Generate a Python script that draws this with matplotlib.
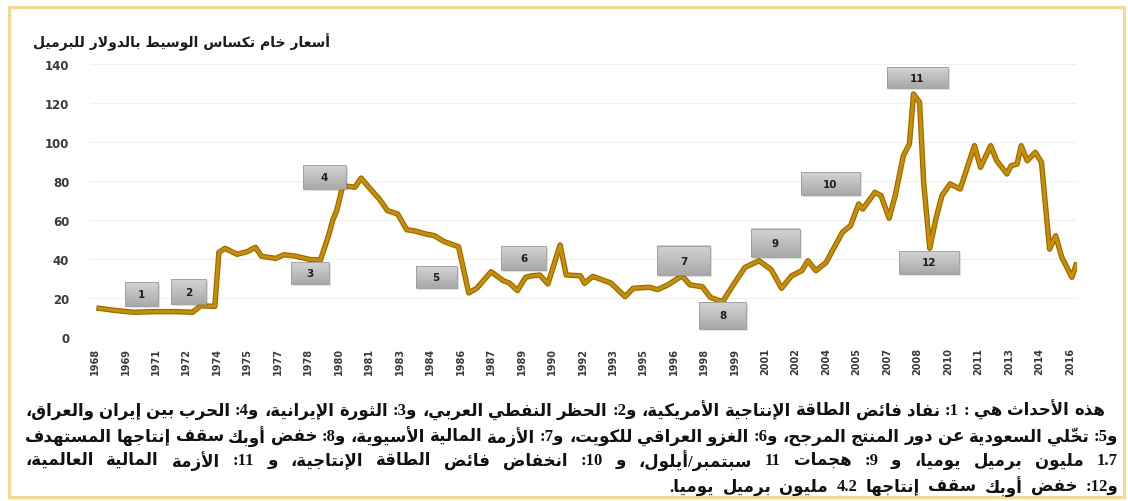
import numpy as np
import matplotlib
matplotlib.use("Agg")
import matplotlib.pyplot as plt
import matplotlib.patheffects as pe
from matplotlib.patches import Rectangle
from matplotlib.colors import LinearSegmentedColormap

# ---------------- data ----------------
years = [1968.2, 1969.1, 1969.9, 1970.9, 1972.0, 1972.8, 1973.2, 1973.9, 1974.1, 1974.4,
         1975.0, 1975.5, 1975.9, 1976.2, 1976.9, 1977.3, 1977.9, 1978.6, 1979.1, 1979.5,
         1979.7, 1979.9, 1980.2, 1980.8, 1981.1, 1981.7, 1982.0, 1982.4, 1982.9, 1983.35,
         1983.7, 1984.3, 1984.7, 1985.2, 1985.9, 1986.4, 1986.8, 1987.5, 1988.1, 1988.4,
         1988.8, 1989.2, 1989.5, 1989.9, 1990.3, 1990.9, 1991.2, 1991.9, 1992.1, 1992.5,
         1993.4, 1994.1, 1994.5, 1995.3, 1995.7, 1996.2, 1996.9, 1997.3, 1997.9, 1998.3,
         1998.9, 1999.4, 2000.0, 2000.7, 2001.3, 2001.8, 2002.3, 2002.8, 2003.1, 2003.5,
         2004.0, 2004.8, 2005.2, 2005.6, 2005.8, 2006.4, 2006.7, 2007.1, 2007.4, 2007.8,
         2008.1, 2008.3, 2008.6, 2008.8, 2009.1, 2009.4, 2009.7, 2010.1, 2010.6, 2011.3,
         2011.6, 2012.1, 2012.4, 2012.9, 2013.1, 2013.4, 2013.6, 2013.9, 2014.3, 2014.6,
         2015.0, 2015.3, 2015.6, 2016.1, 2016.3]
prices = [14.7, 13.5, 12.7, 13.0, 13.0, 12.7, 16.0, 15.7, 43.4, 45.5,
          42.4, 43.8, 46.0, 41.4, 40.3, 42.2, 41.4, 39.7, 39.5, 52.0,
          59.7, 64.8, 77.6, 76.8, 81.5, 74.2, 70.8, 64.8, 63.1, 55.0,
          54.5, 52.8, 52.0, 48.9, 46.3, 22.6, 25.0, 33.5, 28.9, 27.7,
          23.8, 30.6, 31.4, 31.8, 27.2, 47.2, 31.8, 31.4, 27.5, 31.1,
          27.7, 20.7, 25.0, 25.5, 24.3, 26.7, 31.4, 26.7, 25.8, 20.3,
          18.1, 26.3, 35.7, 39.1, 34.5, 25.0, 31.4, 34.0, 39.1, 34.0,
          38.3, 53.7, 57.1, 68.2, 65.6, 74.2, 72.5, 60.9, 72.5, 93.0,
          99.0, 124.6, 120.3, 79.3, 45.5, 60.5, 72.5, 78.5, 75.9, 98.1,
          87.0, 98.1, 90.4, 83.6, 87.8, 88.7, 98.1, 90.4, 94.7, 89.6,
          45.1, 51.9, 40.9, 30.6, 36.9]
tick_pos = [1968 + 1.5 * i for i in range(33)]
tick_labels = ["1968", "1969", "1971", "1972", "1974", "1975", "1977", "1978", "1980",
               "1981", "1983", "1984", "1986", "1987", "1989", "1990", "1992", "1993",
               "1995", "1996", "1998", "1999", "2001", "2002", "2004", "2005", "2007",
               "2008", "2010", "2011", "2013", "2014", "2016"]
y_ticks = [0, 20, 40, 60, 80, 100, 120, 140]
event_labels = ["1", "2", "3", "4", "5", "6", "7", "8", "9", "10", "11", "12"]
event_x = [1970.3, 1972.6, 1978.6, 1979.3, 1984.8, 1989.1, 1997.0, 1998.9, 2001.5, 2004.2, 2008.5, 2009.05]
event_y = [22.2, 23.3, 32.9, 82.0, 31.0, 40.3, 39.1, 11.1, 48.2, 78.6, 132.9, 38.3]
box_w_px = [33, 35, 38, 43, 41, 45, 53, 47, 49, 59, 61, 60]
box_h_px = [24, 25, 22, 24, 22, 24, 29, 27, 28, 23, 21, 23]

title = "أسعار خام تكساس الوسيط بالدولار للبرميل"
notes = [
    "هذه الأحداث هي : 1: نفاد فائض الطاقة الإنتاجية الأمريكية، و2: الحظر النفطي العربي، و3: الثورة الإيرانية، و4: الحرب بين إيران والعراق،",
    "و5: تخلّي السعودية عن دور المنتج المرجح، و6: الغزو العراقي للكويت، و7: الأزمة المالية الأسيوية، و8: خفض أوبك سقف إنتاجها المستهدف",
    "1.7 مليون برميل يوميا، و 9: هجمات 11 سبتمبر/أيلول، و 10: انخفاض فائض الطاقة الإنتاجية، و 11: الأزمة المالية العالمية،",
    "و12: خفض أوبك سقف إنتاجها 4.2 مليون برميل يوميا.",
]

# ---------------- Arabic shaping ----------------
_F = {
    '\u0621': (0xFE80,), '\u0622': (0xFE81, 0xFE82), '\u0623': (0xFE83, 0xFE84),
    '\u0624': (0xFE85, 0xFE86), '\u0625': (0xFE87, 0xFE88), '\u0626': (0xFE89, 0xFE8A, 0xFE8B, 0xFE8C),
    '\u0627': (0xFE8D, 0xFE8E), '\u0628': (0xFE8F, 0xFE90, 0xFE91, 0xFE92), '\u0629': (0xFE93, 0xFE94),
    '\u062A': (0xFE95, 0xFE96, 0xFE97, 0xFE98), '\u062B': (0xFE99, 0xFE9A, 0xFE9B, 0xFE9C),
    '\u062C': (0xFE9D, 0xFE9E, 0xFE9F, 0xFEA0), '\u062D': (0xFEA1, 0xFEA2, 0xFEA3, 0xFEA4),
    '\u062E': (0xFEA5, 0xFEA6, 0xFEA7, 0xFEA8), '\u062F': (0xFEA9, 0xFEAA), '\u0630': (0xFEAB, 0xFEAC),
    '\u0631': (0xFEAD, 0xFEAE), '\u0632': (0xFEAF, 0xFEB0), '\u0633': (0xFEB1, 0xFEB2, 0xFEB3, 0xFEB4),
    '\u0634': (0xFEB5, 0xFEB6, 0xFEB7, 0xFEB8), '\u0635': (0xFEB9, 0xFEBA, 0xFEBB, 0xFEBC),
    '\u0636': (0xFEBD, 0xFEBE, 0xFEBF, 0xFEC0), '\u0637': (0xFEC1, 0xFEC2, 0xFEC3, 0xFEC4),
    '\u0638': (0xFEC5, 0xFEC6, 0xFEC7, 0xFEC8), '\u0639': (0xFEC9, 0xFECA, 0xFECB, 0xFECC),
    '\u063A': (0xFECD, 0xFECE, 0xFECF, 0xFED0), '\u0641': (0xFED1, 0xFED2, 0xFED3, 0xFED4),
    '\u0642': (0xFED5, 0xFED6, 0xFED7, 0xFED8), '\u0643': (0xFED9, 0xFEDA, 0xFEDB, 0xFEDC),
    '\u0644': (0xFEDD, 0xFEDE, 0xFEDF, 0xFEE0), '\u0645': (0xFEE1, 0xFEE2, 0xFEE3, 0xFEE4),
    '\u0646': (0xFEE5, 0xFEE6, 0xFEE7, 0xFEE8), '\u0647': (0xFEE9, 0xFEEA, 0xFEEB, 0xFEEC),
    '\u0648': (0xFEED, 0xFEEE), '\u0649': (0xFEEF, 0xFEF0), '\u064A': (0xFEF1, 0xFEF2, 0xFEF3, 0xFEF4),
}
_LA = {'\u0622': (0xFEF5, 0xFEF6), '\u0623': (0xFEF7, 0xFEF8),
       '\u0625': (0xFEF9, 0xFEFA), '\u0627': (0xFEFB, 0xFEFC)}


def _is_mark(c):
    return '\u064B' <= c <= '\u0652'


def _jt(b):
    if len(b) == 3 and b.startswith('LA'):
        return 'R'
    if b in _F:
        return {1: 'U', 2: 'R', 4: 'D'}[len(_F[b])]
    return 'U'


def shape_word(word):
    cl = []
    for c in word:
        if _is_mark(c) and cl:
            cl[-1][1] += c
        else:
            cl.append([c, ''])
    mg = []
    i = 0
    while i < len(cl):
        b, m = cl[i]
        if b == '\u0644' and i + 1 < len(cl) and cl[i + 1][0] in _LA:
            mg.append(['LA' + cl[i + 1][0], m + cl[i + 1][1]])
            i += 2
        else:
            mg.append([b, m])
            i += 1
    n = len(mg)
    glyphs = []
    for i, (b, m) in enumerate(mg):
        t = _jt(b)
        pt = _jt(mg[i - 1][0]) if i > 0 else 'U'
        nt = _jt(mg[i + 1][0]) if i < n - 1 else 'U'
        jp = t in 'RD' and pt == 'D'
        jn = t == 'D' and nt in 'RD'
        if len(b) == 3 and b.startswith('LA'):
            f = _LA[b[2]]
            g = chr(f[1] if jp else f[0])
        elif b in _F:
            f = _F[b]
            if t == 'D':
                g = chr(f[3] if (jp and jn) else f[1] if jp else f[2] if jn else f[0])
            elif t == 'R':
                g = chr(f[1] if jp else f[0])
            else:
                g = chr(f[0])
        else:
            g = b
        glyphs.append(g + m)
    segs = []
    for i, g in enumerate(glyphs):
        isnum = g.isdigit() or (g in '.,' and 0 < i < n - 1 and glyphs[i - 1].isdigit() and glyphs[i + 1].isdigit())
        if isnum and segs and segs[-1][0]:
            segs[-1][1] += g
        else:
            segs.append([isnum, g])
    return ''.join(s[1] for s in reversed(segs))


def shape_line(line):
    return ' '.join(shape_word(w) for w in reversed(line.split(' ')))


# ---------------- figure ----------------
W, H = 1128, 502
fig = plt.figure(figsize=(W / 100, H / 100), dpi=100)
fig.patch.set_facecolor('white')

x0_year, px_per_year = 1968.0, 20.31
x_left_px, x_right_px = 90.0, 1077.0
ax_left = x_left_px / W
ax_w = (x_right_px - x_left_px) / W
y0_px, y140_px = 338.0, 65.0
ax = fig.add_axes([ax_left, 1 - y0_px / H, ax_w, (y0_px - y140_px) / H])
xlim = (x0_year + (x_left_px - 95) / px_per_year, x0_year + (x_right_px - 95) / px_per_year)
ax.set_xlim(*xlim)
ax.set_ylim(0, 140)
px_per_val = (y0_px - y140_px) / 140.0

for s in ax.spines.values():
    s.set_visible(False)
ax.set_yticks(y_ticks)
ax.set_yticklabels([str(v) for v in y_ticks])
ax.set_xticks(tick_pos)
ax.set_xticklabels(tick_labels, rotation=90)
ax.tick_params(axis='both', length=0)
ax.tick_params(axis='y', pad=15, labelsize=8.5, labelcolor='#3a3a3a')
ax.tick_params(axis='x', pad=7, labelsize=7, labelcolor='#3a3a3a')
for lab in ax.get_yticklabels() + ax.get_xticklabels():
    lab.set_fontweight('bold')
ax.yaxis.grid(True, color='#efefef', lw=0.8)
ax.set_axisbelow(True)

ax.plot(years, prices, color='#c89000', lw=2.2, solid_joinstyle='round', zorder=3,
        path_effects=[pe.Stroke(linewidth=3.9, foreground='#9b6800'), pe.Normal()])

grad = np.linspace(0, 1, 64).reshape(-1, 1)
cmap = LinearSegmentedColormap.from_list('g', ['#a9a9a9', '#d4d4d4'])
for lab, cx, cy, wp, hp in zip(event_labels, event_x, event_y, box_w_px, box_h_px):
    w = wp / px_per_year
    h = hp / px_per_val
    sx = 2.0 / px_per_year
    sy = 2.0 / px_per_val
    ax.add_patch(Rectangle((cx - w / 2 + sx, cy - h / 2 - sy), w, h, facecolor='#000000',
                           alpha=0.12, edgecolor='none', zorder=4))
    ax.imshow(grad, extent=(cx - w / 2, cx + w / 2, cy - h / 2, cy + h / 2), origin='lower',
              cmap=cmap, aspect='auto', zorder=5, interpolation='bilinear')
    ax.add_patch(Rectangle((cx - w / 2, cy - h / 2), w, h, facecolor='none',
                           edgecolor='#9a9a9a', lw=0.6, zorder=5.5))
    ax.text(cx, cy, lab, ha='center', va='center', fontsize=7.5, fontweight='bold',
            color='#1e1e1e', zorder=6)
ax.set_xlim(*xlim)
ax.set_ylim(0, 140)

fig.patches.append(Rectangle((9 / W, 1 - 498 / H), (1124 - 9) / W, (498 - 8) / H,
                             transform=fig.transFigure, facecolor='none',
                             edgecolor='#f6d98e', lw=2.2, zorder=0))

ar_family = ['Liberation Serif', 'DejaVu Sans']
fig.text(33 / W, 1 - 42 / H, shape_line(title), ha='left', va='center', fontsize=10,
         fontweight='bold', family=['DejaVu Sans'], color='#1a1a1a')

renderer = fig.canvas.get_renderer()
line_y = [411, 437, 461, 487]
line_right = [1105, 1118, 1118, 1118]
justify = [True, True, True, False]
left_edge = 25
fs = 12
for line, yy, xr, jus in zip(notes, line_y, line_right, justify):
    words = line.split(' ')
    texts = []
    widths = []
    for w in words:
        t = fig.text(0, 0, shape_word(w), fontsize=fs, fontweight='bold', family=ar_family,
                     color='#111111', ha='right', va='center')
        texts.append(t)
        widths.append(t.get_window_extent(renderer).width)
    t1 = fig.text(0, 0, 'a b', fontsize=fs, fontweight='bold', family=ar_family)
    t2 = fig.text(0, 0, 'ab', fontsize=fs, fontweight='bold', family=ar_family)
    sp_w = t1.get_window_extent(renderer).width - t2.get_window_extent(renderer).width
    t1.remove()
    t2.remove()
    if jus and len(words) > 1:
        gap = (xr - left_edge - sum(widths)) / (len(words) - 1)
    else:
        gap = sp_w * 2.0
    x = xr
    for t, wd in zip(texts, widths):
        t.set_position((x / W, 1 - yy / H))
        x -= wd + gap

fig.savefig('out.png', dpi=100, facecolor='white')
